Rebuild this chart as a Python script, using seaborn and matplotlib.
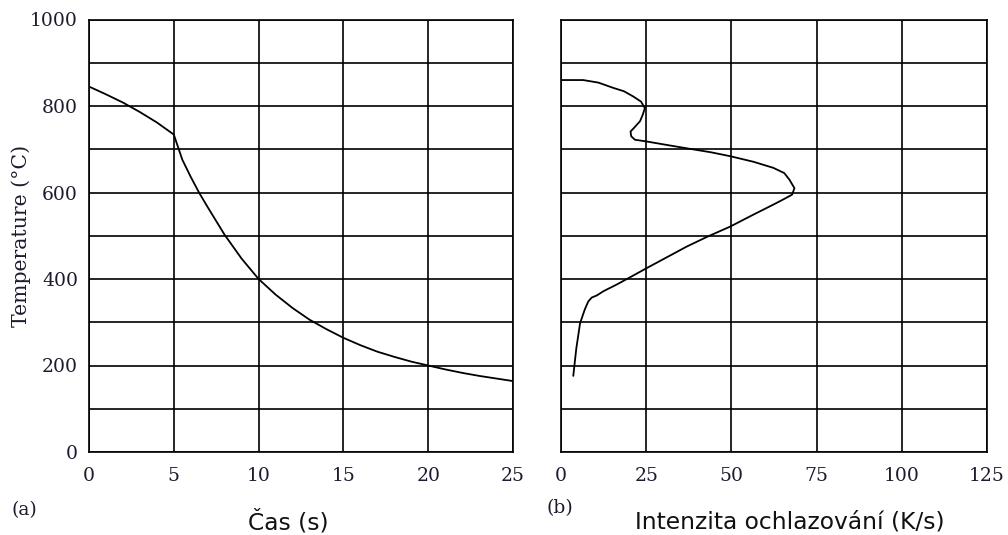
import numpy as np
import pandas as pd
import matplotlib
matplotlib.use("Agg")
import matplotlib.pyplot as plt
import seaborn as sns

# (a) cooling curve: time [s] vs temperature [°C]
cas = [0, 1, 2, 3, 4, 5, 5.5, 6, 6.5, 7, 8, 9, 10, 11, 12, 13, 14, 15,
       16, 17, 18, 19, 20, 21, 22, 23, 24, 25]
teplota_a = [845, 827, 808, 786, 762, 734, 676, 636, 599, 566, 502, 447, 400,
             364, 333, 306, 284, 264, 247, 232, 220, 209, 200, 191, 183, 176, 170, 164]

# (b) cooling rate [K/s] vs temperature [°C]
intenzita = [0.0, 6.5, 11.0, 15.3, 18.5, 21.2, 23.5, 24.6, 24.0, 23.2, 21.5, 20.4, 20.6,
             21.7, 25.1, 31.0, 37.8, 44.0, 49.6, 56.5, 62.3, 65.5, 67.0, 68.5, 67.8, 65.0,
             62.3, 56.0, 49.6, 43.0, 36.9, 31.0, 25.1, 20.5, 16.3, 12.5, 10.5, 9.0, 8.0,
             7.0, 5.6, 4.5, 3.6]
teplota_b = [860, 860, 854, 842, 834, 822, 810, 795, 780, 765, 750, 741, 730,
             722, 718, 710, 701, 693, 684, 671, 657, 645, 630, 610, 595, 583,
             572, 547, 521, 498, 475, 450, 425, 405, 387, 372, 362, 357, 348,
             330, 298, 240, 176]

df_a = pd.DataFrame({"cas": cas, "teplota": teplota_a})
df_b = pd.DataFrame({"intenzita": intenzita, "teplota": teplota_b})

sns.set_style("white")
serif = ["DejaVu Serif"]
sans = ["DejaVu Sans"]
ink = "#1c1c30"

fig = plt.figure(figsize=(10.08, 5.35), dpi=100)
W, H = 1008, 535
ax_a = fig.add_axes([89 / W, 1 - 452 / H, (513 - 89) / W, (452 - 19.5) / H])
ax_b = fig.add_axes([561 / W, 1 - 452 / H, (987 - 561) / W, (452 - 19.5) / H])

sns.lineplot(data=df_a, x="cas", y="teplota", ax=ax_a, color="black",
             linewidth=1.3, sort=False, estimator=None)
sns.lineplot(data=df_b, x="intenzita", y="teplota", ax=ax_b, color="black",
             linewidth=1.3, sort=False, estimator=None)

for ax, xmax, xstep in ((ax_a, 25, 5), (ax_b, 125, 25)):
    ax.set_xlim(0, xmax)
    ax.set_ylim(0, 1000)
    ax.set_xticks(np.arange(0, xmax + 1, xstep))
    ax.set_xticklabels([str(v) for v in range(0, xmax + 1, xstep)],
                       family=serif, color=ink, fontsize=13.5)
    ax.set_yticks(np.arange(0, 1001, 100))
    ax.grid(True, color="black", linewidth=1.2)
    for s in ax.spines.values():
        s.set_color("black")
        s.set_linewidth(1.2)
    ax.tick_params(length=0)
    ax.tick_params(axis="x", pad=11)
    ax.tick_params(axis="y", pad=8)
    ax.set_xlabel("")
    ax.set_ylabel("")

# y tick labels every 200 on the left panel, none on the right
ax_a.set_yticklabels([str(v) if v % 200 == 0 else "" for v in range(0, 1001, 100)],
                     family=serif, color=ink, fontsize=13.5)
ax_b.set_yticklabels([])

ax_a.set_ylabel("Temperature (°C)", family=serif, fontsize=14.7, color=ink)
ax_a.yaxis.set_label_coords(-(89 - 21) / (513 - 89), 0.5)
ax_a.yaxis.label.set_va("center")

fig.text(288 / W, 1 - 522 / H, "Čas (s)", family=sans, fontsize=16.8,
         ha="center", va="center", color="#111111")
fig.text(790 / W, 1 - 522 / H, "Intenzita ochlazování (K/s)", family=sans,
         fontsize=16.8, ha="center", va="center", color="#111111")
fig.text(24 / W, 1 - 510 / H, "(a)", family=serif, fontsize=13.5,
         ha="center", va="center", color=ink)
fig.text(560 / W, 1 - 508 / H, "(b)", family=serif, fontsize=13.5,
         ha="center", va="center", color=ink)

fig.savefig("out.png", dpi=100, facecolor="white")
